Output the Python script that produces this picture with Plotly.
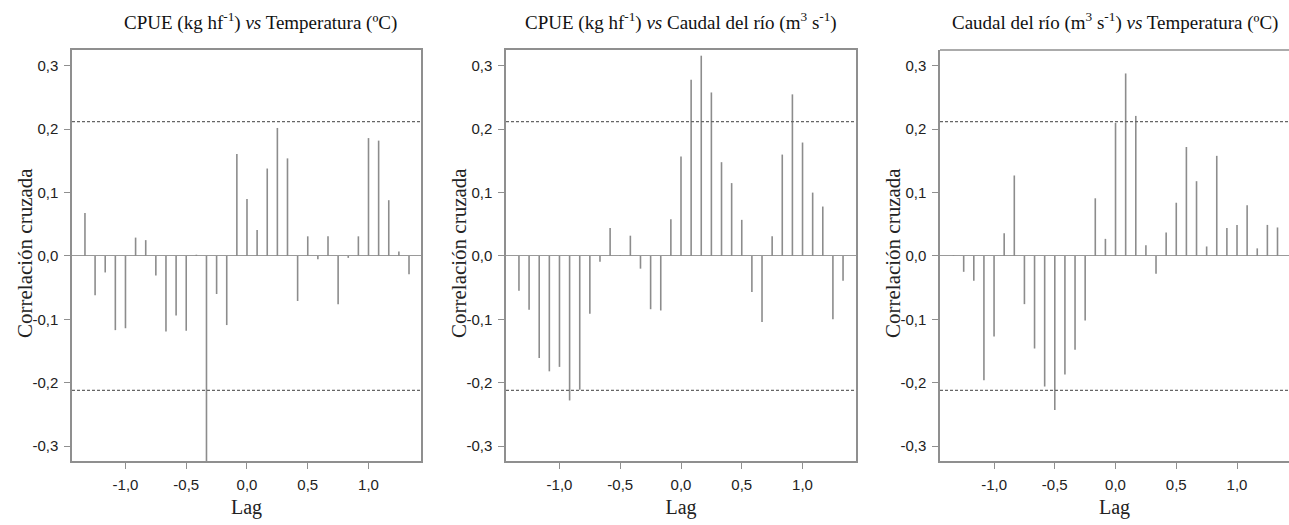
import plotly.graph_objects as go

# ---------------- data ----------------
lag_months = list(range(-16, 17))          # lags in months, axis in years
lags = [m / 12 for m in lag_months]

titles = [
    "CPUE (kg hf<sup>-1</sup>) <i>vs</i> Temperatura (ºC)",
    "CPUE (kg hf<sup>-1</sup>) <i>vs</i> Caudal del río (m<sup>3</sup> s<sup>-1</sup>)",
    "Caudal del río (m<sup>3</sup> s<sup>-1</sup>) <i>vs</i> Temperatura (ºC)",
]
y_title = "Correlación cruzada"
x_title = "Lag"

ccf_cpue_temp = [0.068, -0.062, -0.026, -0.117, -0.114, 0.029, 0.025, -0.031,
                 -0.119, -0.094, -0.118, 0.002, -0.34, -0.060, -0.109, 0.161,
                 0.090, 0.041, 0.138, 0.202, 0.154, -0.071, 0.031, -0.005,
                 0.031, -0.076, -0.003, 0.031, 0.186, 0.182, 0.088, 0.007, -0.029]

ccf_cpue_caudal = [-0.055, -0.085, -0.161, -0.182, -0.175, -0.228, -0.211, -0.091,
                   -0.009, 0.044, 0.001, 0.032, -0.020, -0.084, -0.086, 0.058,
                   0.157, 0.278, 0.316, 0.258, 0.148, 0.115, 0.057, -0.057,
                   -0.104, 0.031, 0.160, 0.255, 0.179, 0.100, 0.078, -0.100, -0.039]

ccf_caudal_temp = [0.001, -0.025, -0.039, -0.196, -0.127, 0.036, 0.127, -0.076,
                   -0.146, -0.206, -0.243, -0.187, -0.148, -0.102, 0.091, 0.027,
                   0.210, 0.288, 0.221, 0.017, -0.028, 0.037, 0.084, 0.172,
                   0.118, 0.015, 0.158, 0.044, 0.049, 0.080, 0.012, 0.049, 0.045]

conf_limit = 0.212
y_ticks = [-0.3, -0.2, -0.1, 0.0, 0.1, 0.2, 0.3]
y_ticklabels = ["-0,3", "-0,2", "-0,1", "0,0", "0,1", "0,2", "0,3"]
x_ticks = [-1.0, -0.5, 0.0, 0.5, 1.0]
x_ticklabels = ["-1,0", "-0,5", "0,0", "0,5", "1,0"]

series = [ccf_cpue_temp, ccf_cpue_caudal, ccf_caudal_temp]

# ---------------- layout geometry ----------------
W, H = 1289, 525
x_doms = [(72 / W, 421 / W), (506 / W, 856 / W), (940 / W, 1.0)]
x_ranges = [[-1.440, 1.432], [-1.440, 1.440], [-1.445, 1.428]]
y_dom = [(525 - 461) / H, (525 - 50) / H]
y_range = [-0.3235, 0.325]
ytitle_px = [25, 459, 893]

BAR_COLOR = "#8c8c8c"
AXIS_COLOR = "#8f8f8f"
SERIF = "Liberation Serif, Times New Roman, serif"
SANS = "Liberation Sans, Arial, sans-serif"

fig = go.Figure()
layout = dict(
    width=W, height=H,
    margin=dict(l=0, r=0, t=0, b=0),
    paper_bgcolor="white", plot_bgcolor="white",
    showlegend=False,
    shapes=[], annotations=[],
)

for i, vals in enumerate(series):
    n = "" if i == 0 else str(i + 1)
    xa, ya = "x" + n, "y" + n
    xs, ys = [], []
    for lg, v in zip(lags, vals):
        xs += [lg, lg, None]
        ys += [0, v, None]
    fig.add_trace(go.Scatter(x=xs, y=ys, mode="lines", xaxis=xa, yaxis=ya,
                             line=dict(color=BAR_COLOR, width=1.6),
                             hoverinfo="skip"))
    for c in (conf_limit, -conf_limit):
        fig.add_trace(go.Scatter(x=[x_ranges[i][0], x_ranges[i][1]], y=[c, c],
                                 mode="lines", xaxis=xa, yaxis=ya,
                                 line=dict(color="#666666", width=1.2, dash="3px,2px"),
                                 hoverinfo="skip"))
    mirror = i < 2
    layout["xaxis" + n] = dict(
        domain=list(x_doms[i]), range=x_ranges[i], anchor=ya,
        showline=True, linecolor=AXIS_COLOR, linewidth=1.5, mirror=mirror,
        showgrid=False, zeroline=False,
        ticks="outside", ticklen=6, tickwidth=1.2, tickcolor=AXIS_COLOR,
        ticklabelstandoff=3,
        tickvals=x_ticks, ticktext=x_ticklabels,
        tickfont=dict(family=SANS, size=15, color="#222222"),
        title=dict(text=x_title, font=dict(family=SERIF, size=20, color="#222222"),
                   standoff=8),
    )
    layout["yaxis" + n] = dict(
        domain=list(y_dom), range=y_range, anchor=xa,
        showline=True, linecolor=AXIS_COLOR, linewidth=1.5, mirror=mirror,
        showgrid=False, zeroline=True, zerolinecolor="#9a9a9a", zerolinewidth=1,
        ticks="outside", ticklen=6, tickwidth=1.2, tickcolor=AXIS_COLOR,
        ticklabelstandoff=3,
        tickvals=y_ticks, ticktext=y_ticklabels,
        tickfont=dict(family=SANS, size=15, color="#222222"),
    )
    if not mirror:
        layout["shapes"].append(dict(type="line", xref=xa + " domain", yref=ya + " domain",
                                     x0=0, x1=1, y0=1, y1=1,
                                     line=dict(color=AXIS_COLOR, width=1.5)))
    cx = (x_doms[i][0] + x_doms[i][1]) / 2
    if i == 0:
        cx += 14 / W
    layout["annotations"].append(dict(
        text=titles[i], xref="paper", yref="paper", x=cx, y=1 - 21 / H,
        xanchor="center", yanchor="middle", showarrow=False,
        font=dict(family=SERIF, size=19, color="#111111")))
    layout["annotations"].append(dict(
        text=y_title, xref="paper", yref="paper", x=ytitle_px[i] / W,
        y=1 - 253 / H, textangle=-90,
        xanchor="center", yanchor="middle", showarrow=False,
        font=dict(family=SERIF, size=21, color="#222222")))

fig.update_layout(**layout)
fig.write_html("out.html")
